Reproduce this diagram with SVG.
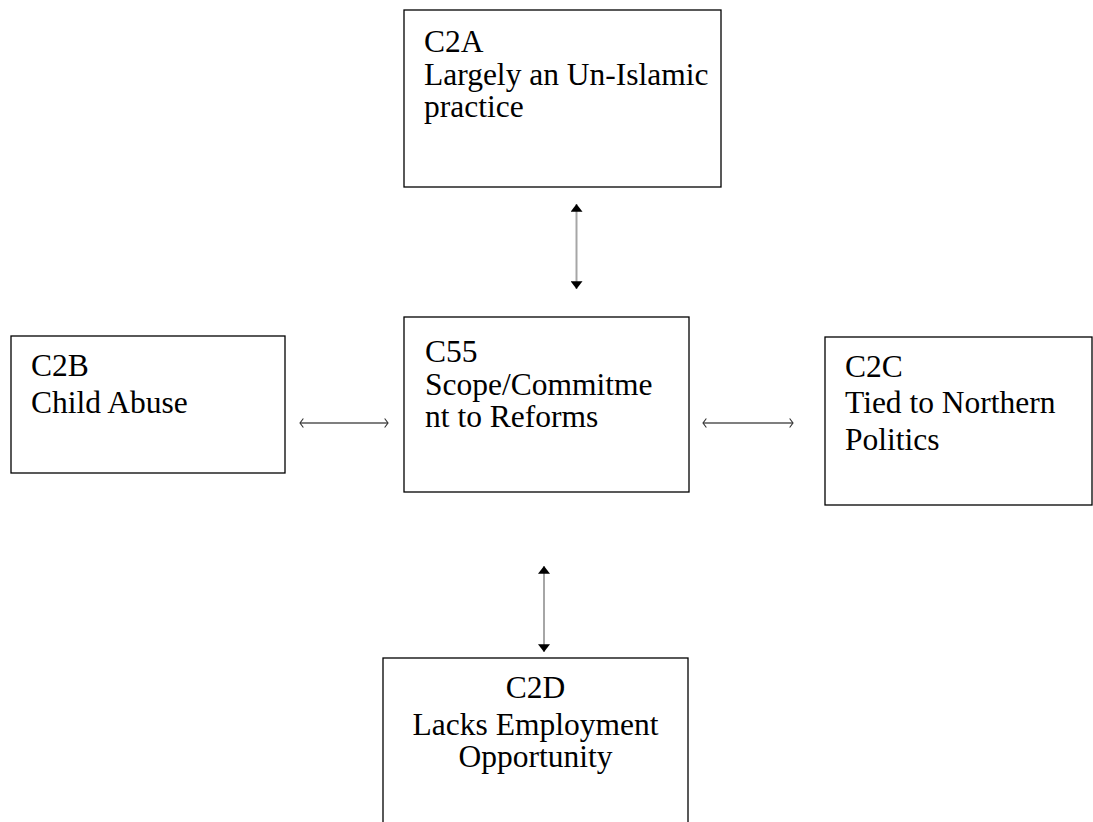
<svg xmlns="http://www.w3.org/2000/svg" width="1093" height="822" viewBox="0 0 1093 822">
<style>
.box{fill:#fff;stroke:#000;stroke-width:1.3}
.t{font-family:"Liberation Serif","Times New Roman",serif;font-size:31.5px;fill:#000}
.v{stroke:#a6a6a6;stroke-width:2;fill:none}
.h{stroke:#555;stroke-width:1.6;fill:none}
</style>
<defs>
<marker id="tri" viewBox="0 0 10 10" refX="8" refY="5" markerWidth="6" markerHeight="6" orient="auto-start-reverse" markerUnits="strokeWidth">
<path d="M1.5,0 L8,5 L1.5,10 z" fill="#000"/>
</marker>
<marker id="chev" viewBox="0 0 10 10" refX="8" refY="5" markerWidth="7" markerHeight="7" orient="auto-start-reverse" markerUnits="strokeWidth">
<path d="M5,1 L8,5 L5,9" fill="none" stroke="#333" stroke-width="1"/>
</marker>
</defs>
<rect width="1093" height="822" fill="#fff"/>
<g id="connectors">
<line class="v" x1="576.5" y1="204" x2="576.5" y2="289" marker-start="url(#tri)" marker-end="url(#tri)"/>
<line class="v" x1="544" y1="566" x2="544" y2="652" marker-start="url(#tri)" marker-end="url(#tri)"/>
<line class="h" x1="300" y1="423" x2="388" y2="423" marker-start="url(#chev)" marker-end="url(#chev)"/>
<line class="h" x1="703" y1="423" x2="793" y2="423" marker-start="url(#chev)" marker-end="url(#chev)"/>
</g>
<g id="C2A">
<rect class="box" x="404" y="10" width="317" height="177"/>
<text class="t" x="424" y="52">C2A</text>
<text class="t" x="424" y="85">Largely an Un-Islamic</text>
<text class="t" x="424" y="117">practice</text>
</g>
<g id="C55">
<rect class="box" x="404" y="317" width="285" height="175"/>
<text class="t" x="425" y="362">C55</text>
<text class="t" x="425" y="395">Scope/Commitme</text>
<text class="t" x="425" y="427">nt to Reforms</text>
</g>
<g id="C2B">
<rect class="box" x="11" y="336" width="274" height="137"/>
<text class="t" x="31" y="376">C2B</text>
<text class="t" x="31" y="413">Child Abuse</text>
</g>
<g id="C2C">
<rect class="box" x="825" y="337" width="267" height="168"/>
<text class="t" x="845" y="377">C2C</text>
<text class="t" x="845" y="413">Tied to Northern</text>
<text class="t" x="845" y="450">Politics</text>
</g>
<g id="C2D">
<rect class="box" x="383" y="658" width="305" height="180"/>
<text class="t" x="535.5" y="698" text-anchor="middle">C2D</text>
<text class="t" x="535.5" y="735" text-anchor="middle">Lacks Employment</text>
<text class="t" x="535.5" y="767" text-anchor="middle">Opportunity</text>
</g>
</svg>
